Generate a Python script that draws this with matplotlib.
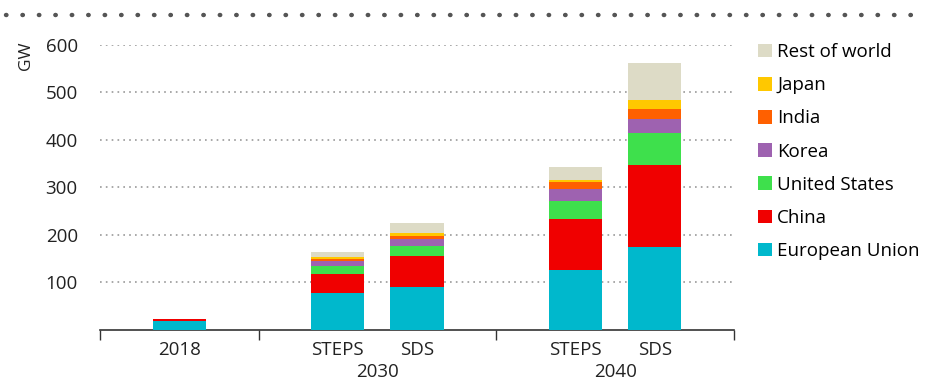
import matplotlib.pyplot as plt
from matplotlib.lines import Line2D
from matplotlib.patches import Patch
import numpy as np

plt.rcParams['font.family'] = ['Open Sans', 'DejaVu Sans']

# bars: 2018, 2030 STEPS, 2030 SDS, 2040 STEPS, 2040 SDS
bar_pos = [0, 2, 3, 5, 6]
bar_labels = ["2018", "STEPS", "SDS", "STEPS", "SDS"]
group_labels = ["2030", "2040"]
group_pos = [2.5, 5.5]

eu = [18, 76.5, 90.5, 126, 174]
china = [4, 40, 65, 107, 173]
us = [0, 18, 21, 39, 68]
korea = [0, 11, 15, 24, 28]
india = [0, 3, 6, 16, 22]
japan = [0, 3.6, 6, 4, 19.5]
rest = [0.5, 12, 21, 26, 78]

series = [
    ("European Union", eu, "#00B8CC"),
    ("China", china, "#F00000"),
    ("United States", us, "#3EE04C"),
    ("Korea", korea, "#9E62B0"),
    ("India", india, "#FF6000"),
    ("Japan", japan, "#FFC800"),
    ("Rest of world", rest, "#DDDBC6"),
]

fs = 13.5

fig = plt.figure(figsize=(9.4, 3.82), dpi=100)
ax = fig.add_axes([0.1064, 0.1374, 0.6745, 0.7448])

bottom = np.zeros(len(bar_pos))
for name, vals, col in series:
    ax.bar(bar_pos, vals, bottom=bottom, width=0.67, color=col, label=name, zorder=3)
    bottom += np.array(vals)

ax.set_xlim(-1, 7)
ax.set_ylim(0, 600)
ax.set_yticks([100, 200, 300, 400, 500, 600])
ax.tick_params(axis='y', length=0, pad=16, labelsize=fs, labelcolor='#222222')
ax.yaxis.grid(True, linestyle=(0, (1, 2.5)), color='#999999', linewidth=1.2, zorder=0)

for s in ['top', 'right', 'left']:
    ax.spines[s].set_visible(False)
ax.spines['bottom'].set_color('#333333')
ax.spines['bottom'].set_linewidth(1.2)

# category ticks sit at the group dividers
ax.set_xticks([-1, 1, 4, 7])
ax.set_xticklabels([])
ax.tick_params(axis='x', length=7, width=1, color='#333333', direction='out')

for x, lab in zip(bar_pos, bar_labels):
    ax.text(x, -43, lab, ha='center', va='center', fontsize=fs, color='#222222')
for x, lab in zip(group_pos, group_labels):
    ax.text(x, -90, lab, ha='center', va='center', fontsize=fs, color='#222222')

fig.text(0.028, 0.853, "GW", rotation=90, ha='center', va='center', fontsize=12.5, color='#222222')

# dotted rule across the top
fig.add_artist(Line2D([0.006, 0.985], [0.96, 0.96], transform=fig.transFigure,
                      linestyle=(0, (0.1, 3.6)), dash_capstyle='round',
                      color='#555555', linewidth=3.2))

handles = [Patch(facecolor=col, label=name) for name, vals, col in reversed(series)]
fig.legend(handles=handles, loc='upper left', bbox_to_anchor=(0.798, 0.907),
           frameon=False, fontsize=fs, handlelength=0.75, handleheight=0.75,
           handletextpad=0.3, labelspacing=0.81, borderaxespad=0)

fig.savefig("out.png", dpi=100)
